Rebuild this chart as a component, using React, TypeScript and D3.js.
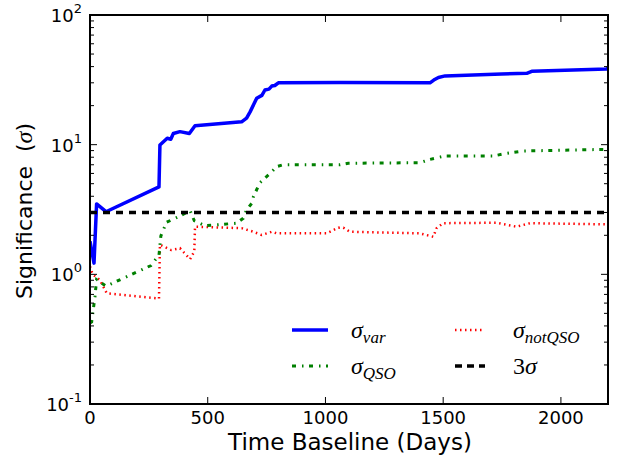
import React from "react";
import * as d3 from "d3";

const varDays = [0, 17, 28, 68, 293, 297, 328, 343, 354, 382, 422, 446, 644, 665, 680, 708, 730, 743, 760, 772, 785, 800, 1062, 1444, 1460, 1480, 1508, 1748, 1855, 1876, 2194, 2200];
const varVals = [1.8, 1.22, 3.49, 3.04, 4.72, 9.93, 11.2, 11.0, 12.2, 12.6, 12.2, 14.0, 15.0, 16.0, 17.9, 22.8, 24.0, 26.4, 26.8, 28.3, 28.6, 30.0, 30.2, 30.0, 31.5, 33.0, 33.9, 35.1, 35.5, 36.8, 38.4, 39.0];

const qsoDays = [0, 7, 21, 28, 68, 134, 198, 259, 293, 301, 325, 372, 425, 443, 488, 623, 651, 665, 687, 694, 722, 769, 793, 821, 1062, 1097, 1401, 1444, 1508, 1713, 1770, 1840, 2194, 2200];
const qsoVals = [0.42, 0.43, 0.67, 0.91, 0.81, 0.92, 1.04, 1.17, 1.41, 1.98, 2.52, 2.76, 3.1, 2.59, 2.37, 2.48, 2.71, 3.14, 3.53, 3.97, 5.1, 6.1, 6.77, 7.0, 7.0, 7.19, 7.26, 7.7, 8.18, 8.18, 8.58, 8.94, 9.2, 9.2];

const notDays = [0, 7, 14, 42, 71, 293, 297, 345, 382, 425, 443, 446, 644, 694, 729, 772, 793, 1005, 1055, 1076, 1104, 1401, 1458, 1472, 1500, 1727, 1812, 1869, 2194, 2200];
const notVals = [1.15, 1.05, 0.99, 0.905, 0.715, 0.65, 1.69, 1.54, 1.59, 1.31, 1.5, 2.33, 2.27, 2.13, 2.01, 2.13, 2.07, 2.07, 2.29, 2.29, 2.13, 2.07, 1.95, 2.27, 2.48, 2.5, 2.33, 2.48, 2.43, 2.43];

const threshold = 3;
const xTicks = [0, 500, 1000, 1500, 2000];
const yDecades = [-1, 0, 1, 2];

const W = 618, H = 460;
const L = 90, R = 608, T = 15, B = 404;

export default function App() {
  const x = d3.scaleLinear().domain([0, 2200]).range([L, R]);
  const y = d3.scaleLog().domain([0.1, 100]).range([B, T]);
  const line = d3.line<[number, number]>().x(d => x(d[0])).y(d => y(d[1]));
  const mk = (ds: number[], vs: number[]) => line(ds.map((d, i) => [d, vs[i]] as [number, number])) || "";

  const minor: number[] = [];
  for (let e = -1; e < 2; e++) for (let k = 2; k <= 9; k++) minor.push(k * Math.pow(10, e));

  const font = "DejaVu Sans, sans-serif";
  const serif = "Liberation Serif, DejaVu Serif, serif";

  return (
    <svg width={W} height={H} style={{ position: "absolute", left: 0, top: 0, background: "#fff" }}>
      <defs>
        <clipPath id="plot"><rect x={L} y={T} width={R - L} height={B - T} /></clipPath>
      </defs>
      <rect width={W} height={H} fill="#fff" />
      <g clipPath="url(#plot)" fill="none">
        <path d={mk(notDays, notVals)} stroke="#ff0000" strokeWidth={2.5} strokeDasharray="1.5,3.5" />
        <path d={mk(qsoDays, qsoVals)} stroke="#008000" strokeWidth={3} strokeDasharray="4,6,1.5,5.5" />
        <path d={mk(varDays, varVals)} stroke="#0000ff" strokeWidth={3.5} strokeLinejoin="round" />
        <line x1={x(0)} x2={x(2200)} y1={y(threshold)} y2={y(threshold)} stroke="#000" strokeWidth={3.5} strokeDasharray="7,6" />
      </g>
      {/* ticks */}
      <g stroke="#000">
        {xTicks.map(t => (
          <g key={"x" + t}>
            <line x1={x(t)} x2={x(t)} y1={B} y2={B - 7} strokeWidth={1} />
            <line x1={x(t)} x2={x(t)} y1={T} y2={T + 7} strokeWidth={1} />
          </g>
        ))}
        {yDecades.map(e => (
          <g key={"y" + e}>
            <line x1={L} x2={L + 7} y1={y(Math.pow(10, e))} y2={y(Math.pow(10, e))} strokeWidth={1} />
            <line x1={R} x2={R - 7} y1={y(Math.pow(10, e))} y2={y(Math.pow(10, e))} strokeWidth={1} />
          </g>
        ))}
        {minor.map(m => (
          <g key={"m" + m}>
            <line x1={L} x2={L + 4} y1={y(m)} y2={y(m)} strokeWidth={1} />
            <line x1={R} x2={R - 4} y1={y(m)} y2={y(m)} strokeWidth={1} />
          </g>
        ))}
      </g>
      <rect x={L} y={T} width={R - L} height={B - T} fill="none" stroke="#000" strokeWidth={2} />
      {/* tick labels */}
      <g fontFamily={font} fontSize={18} fill="#000">
        {xTicks.map(t => (
          <text key={"xl" + t} x={x(t)} y={424} textAnchor="middle">{t}</text>
        ))}
        {yDecades.map(e => (
          <text key={"yl" + e} x={L - 8} y={y(Math.pow(10, e)) + 7} textAnchor="end">
            10<tspan dy={-9} fontSize={13}>{e}</tspan>
          </text>
        ))}
      </g>
      <text x={(L + R) / 2 + 1} y={450} textAnchor="middle" fontFamily={font} fontSize={23}>Time Baseline (Days)</text>
      <text transform={`translate(32,211) rotate(-90)`} textAnchor="middle" fontFamily={font} fontSize={22}>
        {"Significance\u00a0\u00a0("}<tspan fontFamily={serif} fontStyle="italic" fontSize={24}>σ</tspan>)
      </text>
      {/* legend */}
      <g>
        <line x1={292} x2={328} y1={330} y2={330} stroke="#0000ff" strokeWidth={3.5} />
        <line x1={292} x2={328} y1={366} y2={366} stroke="#008000" strokeWidth={3} strokeDasharray="4,6,1.5,5.5" />
        <line x1={455} x2={485} y1={330} y2={330} stroke="#ff0000" strokeWidth={2.5} strokeDasharray="1.5,3.5" />
        <line x1={455} x2={485} y1={366} y2={366} stroke="#000" strokeWidth={3.5} strokeDasharray="7,5" />
        <g fontFamily={serif} fontStyle="italic" fontSize={24} fill="#000">
          <text x={351} y={338}>σ<tspan fontSize={17} dy={5}>var</tspan></text>
          <text x={351} y={374}>σ<tspan fontSize={17} dy={5}>QSO</tspan></text>
          <text x={513} y={338}>σ<tspan fontSize={17} dy={5}>notQSO</tspan></text>
          <text x={513} y={374}><tspan fontStyle="normal">3</tspan>σ</text>
        </g>
      </g>
    </svg>
  );
}
